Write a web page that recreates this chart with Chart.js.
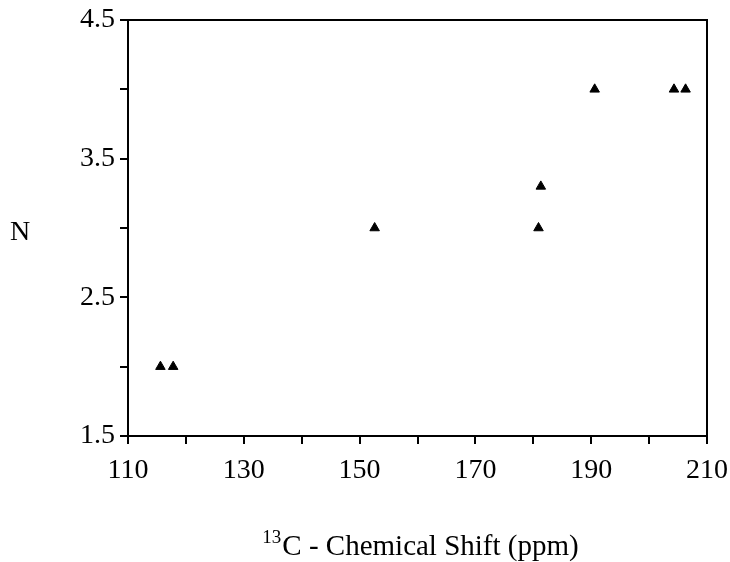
<!DOCTYPE html>
<html>
<head>
<meta charset="utf-8">
<script src="https://cdn.jsdelivr.net/npm/chart.js@4.4.0/dist/chart.umd.min.js"></script>
<style>
  html, body { margin: 0; padding: 0; background: #fff; }
  canvas { display: block; }
</style>
</head>
<body>
<canvas id="chart" width="730" height="562"></canvas>
<script>
// data
const shiftPpm = [115.6, 117.8, 152.6, 180.9, 181.3, 190.6, 204.3, 206.3];
const nValues = [2.0, 2.0, 3.0, 3.0, 3.3, 4.0, 4.0, 4.0];
const xTickLabels = [110, 130, 150, 170, 190, 210];
const yTickLabels = [1.5, 2.5, 3.5, 4.5];

const FONT = "'Liberation Serif', 'DejaVu Serif', serif";

// frame + axis titles
const framePlugin = {
  id: "frame",
  afterDraw(chart) {
    const ctx = chart.ctx;
    const a = chart.chartArea;
    ctx.save();
    ctx.strokeStyle = "#000";
    ctx.lineWidth = 2;
    ctx.strokeRect(a.left, a.top, a.right - a.left, a.bottom - a.top);

    ctx.fillStyle = "#000";
    ctx.textBaseline = "alphabetic";
    ctx.font = "28px " + FONT;
    ctx.textAlign = "left";
    ctx.fillText("N", 10, 240);

    // x title with superscript 13
    const sup = "13";
    const main = "C - Chemical Shift (ppm)";
    ctx.font = "19px " + FONT;
    const wSup = ctx.measureText(sup).width;
    ctx.font = "29px " + FONT;
    const wMain = ctx.measureText(main).width;
    const x0 = 420 - (wSup + wMain) / 2;
    ctx.font = "19px " + FONT;
    ctx.fillText(sup, x0, 543);
    ctx.font = "29px " + FONT;
    ctx.fillText(main, x0 + wSup + 1, 555);
    ctx.restore();
  }
};

new Chart(document.getElementById("chart").getContext("2d"), {
  type: "scatter",
  data: {
    datasets: [
      {
        label: "N",
        data: shiftPpm.map((x, i) => ({ x: x, y: nValues[i] })),
        pointStyle: "triangle",
        pointRadius: 5.5,
        backgroundColor: "#000",
        borderColor: "#000",
        borderWidth: 1,
      },
    ],
  },
  options: {
    responsive: false,
    animation: false,
    layout: { padding: { top: 20, right: 23, left: 0, bottom: 0 } },
    plugins: {
      legend: { display: false },
      tooltip: { enabled: false },
    },
    scales: {
      x: {
        type: "linear",
        min: 110,
        max: 210,
        ticks: {
          stepSize: 10,
          autoSkip: false,
          maxRotation: 0,
          color: "#000",
          padding: 10,
          font: { family: FONT, size: 28 },
          callback: (v) => (xTickLabels.includes(v) ? String(v) : ""),
        },
        grid: {
          drawOnChartArea: false,
          drawTicks: true,
          tickLength: 8,
          color: "#000",
          lineWidth: 2,
        },
        border: { display: true, color: "#000", width: 2 },
        afterFit: (scale) => {
          scale.height = 126;
          scale.paddingLeft = 0;
          scale.paddingRight = 0;
        },
      },
      y: {
        type: "linear",
        min: 1.5,
        max: 4.5,
        ticks: {
          stepSize: 0.5,
          autoSkip: false,
          color: "#000",
          padding: 5,
          font: { family: FONT, size: 28 },
          callback: (v) => (yTickLabels.includes(v) ? v.toFixed(1) : ""),
        },
        grid: {
          drawOnChartArea: false,
          drawTicks: true,
          tickLength: 8,
          color: "#000",
          lineWidth: 2,
        },
        border: { display: true, color: "#000", width: 2 },
        afterFit: (scale) => {
          scale.width = 128;
          scale.paddingTop = 0;
          scale.paddingBottom = 0;
        },
      },
    },
  },
  plugins: [framePlugin],
});
</script>
</body>
</html>
